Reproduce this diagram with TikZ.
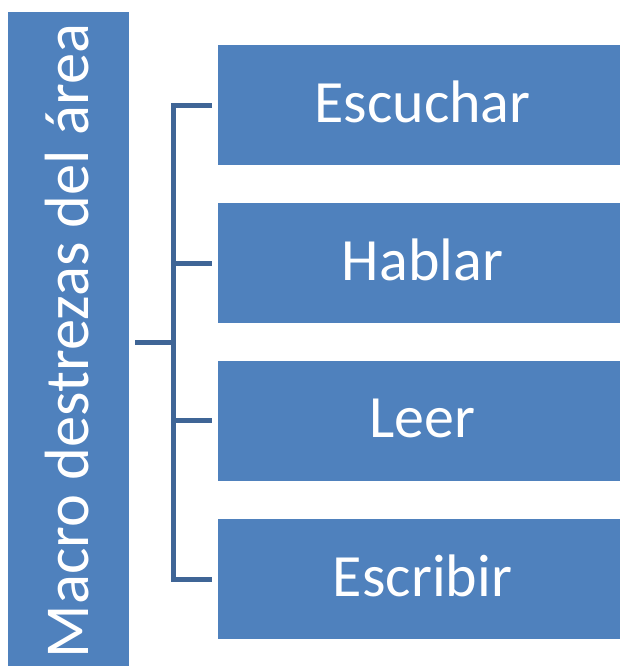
\documentclass[tikz,border=0pt]{standalone}
\usepackage{fontspec}
\setmainfont{Carlito}
\definecolor{boxblue}{RGB}{79,129,189}
\definecolor{linkblue}{RGB}{63,101,150}
\begin{document}
\begin{tikzpicture}[x=1pt,y=-1pt,
  itembox/.style={draw=none,fill=boxblue,minimum width=410pt,minimum height=120pt,inner sep=0pt,anchor=north west},
  itemtext/.style={text=white,anchor=base,font=\fontsize{60}{72}\selectfont,inner sep=0pt},
  link/.style={draw=linkblue,line width=5pt,line join=miter,line cap=rect}]
\useasboundingbox (0,0) rectangle (619,666);
\node[fill=boxblue,minimum width=121pt,minimum height=668pt,inner sep=0pt,anchor=north west] (L) at (8,12) {};
\node[text=white,rotate=90,anchor=base,inner sep=0pt,font=\fontsize{62.5}{75}\selectfont] (Lt) at (88,341) {Macro destrezas del área};
\node[itembox] (b1) at (218,45) {};
\node[itembox] (b2) at (218,203) {};
\node[itembox] (b3) at (218,360.5) {};
\node[itembox] (b4) at (218,519) {};
\node[itemtext] (t1) at (422.5,122) {Escuchar};
\node[itemtext] (t2) at (422.5,280) {Hablar};
\node[itemtext] (t3) at (422.5,437.5) {Leer};
\node[itemtext] (t4) at (422.5,596) {Escribir};
\coordinate (e1) at ([xshift=-6pt]b1.west);
\coordinate (e2) at ([xshift=-6pt]b2.west);
\coordinate (e3) at ([xshift=-6pt]b3.west);
\coordinate (e4) at ([xshift=-6pt]b4.west);
\coordinate (m) at (173.5,342);
\coordinate (s) at ([xshift=6pt]L.east |- m);
\draw[link,line cap=butt] (e1) -- (e1 -| m) -- (e4 -| m) -- (e4);
\draw[link,line cap=butt] (e2 -| m) -- (e2);
\draw[link,line cap=butt] (e3 -| m) -- (e3);
\draw[link,line cap=butt] (s) -- (m);
\end{tikzpicture}
\end{document}
